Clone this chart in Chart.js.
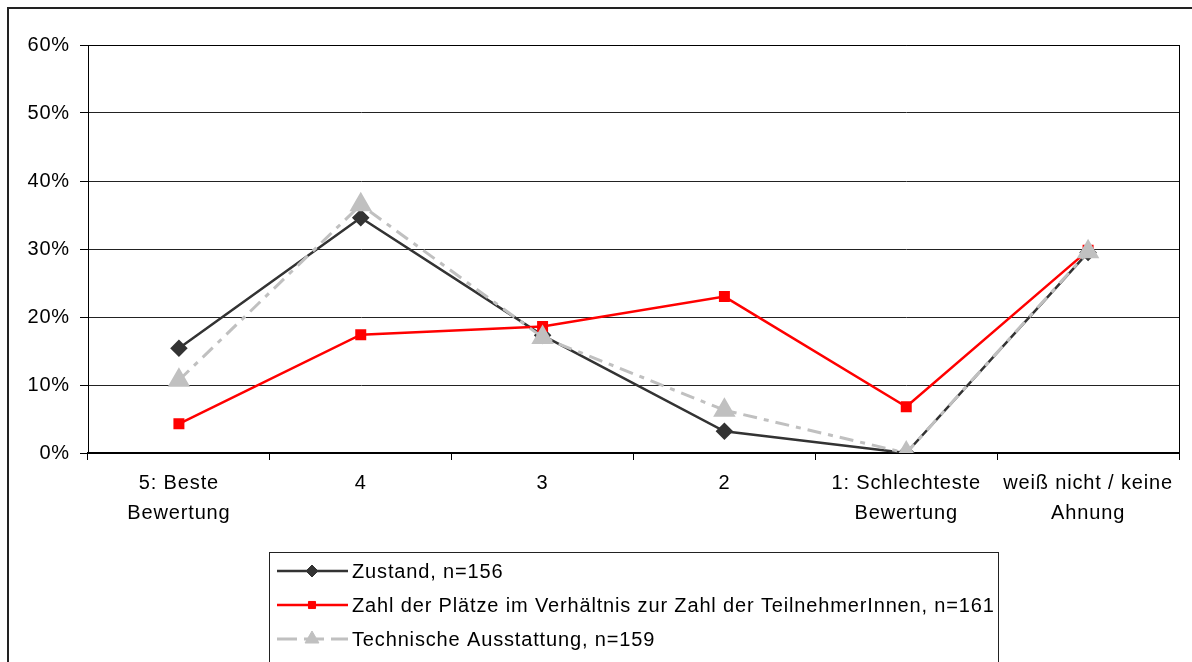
<!DOCTYPE html>
<html>
<head>
<meta charset="utf-8">
<script src="https://cdn.jsdelivr.net/npm/chart.js@4/dist/chart.umd.min.js"></script>
<style>
html,body{margin:0;padding:0;background:#fff;}
#wrap{position:relative;width:1192px;height:662px;}
canvas{display:block;}
</style>
</head>
<body>
<div id="wrap"><canvas id="c" width="1192" height="662"></canvas></div>
<script>
const categories = [["5: Beste","Bewertung"],"4","3","2",["1: Schlechteste","Bewertung"],["weiß nicht / keine","Ahnung"]];
const zustand = [15.4, 34.6, 17.3, 3.2, 0, 29.5];
const plaetze = [4.3, 17.4, 18.6, 23.0, 6.8, 29.8];
const technik = [10.7, 36.5, 17.0, 6.3, 0, 29.6];
const seriesNames = ["Zustand, n=156","Zahl der Plätze im Verhältnis zur Zahl der TeilnehmerInnen, n=161","Technische Ausstattung, n=159"];
const yTicks = [0,10,20,30,40,50,60];

const FONT = "'Liberation Sans', Arial, sans-serif";
const SPACING = '0.85px';

const frame = {
  id:'frame',
  beforeUpdate(chart){ chart.ctx.letterSpacing = SPACING; },
  beforeDraw(chart){
    const c = chart.ctx;
    c.letterSpacing = SPACING;
    c.save();
    c.fillStyle='#fff';
    c.fillRect(0,0,chart.width,chart.height);
    c.strokeStyle='#222';
    c.lineWidth=2;
    c.strokeRect(8,8,1200,700);
    c.restore();
  },
  afterDraw(chart){
    const c = chart.ctx;
    const a = chart.chartArea;
    c.save();
    c.strokeStyle='#000';
    c.lineWidth=1;
    c.beginPath();
    c.moveTo(a.left, a.top+0.5); c.lineTo(a.right+0.5, a.top+0.5);
    c.moveTo(a.right+0.5, a.top); c.lineTo(a.right+0.5, a.bottom);
    c.stroke();
    const lx=269, ly=552, lw=729, lh=130;
    c.fillStyle='#fff';
    c.fillRect(lx,ly,lw,lh);
    c.strokeStyle='#222';
    c.lineWidth=1;
    c.strokeRect(lx+0.5,ly+0.5,lw,lh);
    const rows=[571,605,639];
    c.font = "20px "+FONT;
    c.letterSpacing = SPACING;
    c.textBaseline='middle';
    chart.data.datasets.forEach((ds,i)=>{
      const y=rows[i];
      c.save();
      c.strokeStyle=ds.borderColor;
      c.lineWidth=ds.borderWidth;
      c.setLineDash(ds.legendDash||[]);
      c.beginPath(); c.moveTo(277,y); c.lineTo(348,y); c.stroke();
      c.restore();
      c.save();
      c.fillStyle=ds.pointBackgroundColor;
      c.strokeStyle=ds.pointBorderColor;
      c.lineWidth=1;
      Chart.helpers.drawPoint(c,{pointStyle:ds.pointStyle,radius:ds.legendRadius,borderWidth:1,rotation:0},312,y);
      c.restore();
      c.fillStyle='#000';
      c.textAlign='left';
      c.fillText(ds.label,352,y+1);
    });
    c.restore();
  }
};

new Chart(document.getElementById('c'),{
  type:'line',
  data:{
    labels:categories,
    datasets:[
      {label:seriesNames[0],data:zustand,borderColor:'#333333',backgroundColor:'#333333',pointBackgroundColor:'#333333',pointBorderColor:'#333333',borderWidth:2.5,pointStyle:'rectRot',pointRadius:7,legendRadius:6,tension:0,order:2},
      {label:seriesNames[1],data:plaetze,borderColor:'#ff0000',backgroundColor:'#ff0000',pointBackgroundColor:'#ff0000',pointBorderColor:'#ff0000',borderWidth:2.5,pointStyle:'rect',pointRadius:6,legendRadius:5,tension:0,order:1},
      {label:seriesNames[2],data:technik,borderColor:'#c0c0c0',backgroundColor:'#c0c0c0',pointBackgroundColor:'#c0c0c0',pointBorderColor:'#c0c0c0',borderWidth:3,borderDash:[14,7,5,7],legendDash:[20,7,5,7,8,7],pointStyle:'triangle',pointRadius:10,legendRadius:8,tension:0,order:0}
    ]
  },
  options:{
    responsive:false,
    animation:false,
    devicePixelRatio:1,
    layout:{padding:{left:0,top:45,right:11,bottom:0}},
    plugins:{legend:{display:false},tooltip:{enabled:false}},
    scales:{
      x:{
        offset:true,
        afterFit(s){s.height=209;},
        grid:{offset:true,drawOnChartArea:false,drawTicks:true,tickLength:7,color:'#000',lineWidth:1},
        border:{display:true,color:'#000',width:2},
        ticks:{color:'#000',font:{family:FONT,size:20,lineHeight:1.5},padding:8,maxRotation:0,autoSkip:false}
      },
      y:{
        min:0,max:60,
        afterFit(s){s.width=88;},
        afterBuildTicks(s){s.ticks=yTicks.map(v=>({value:v}));},
        grid:{color:'#222',lineWidth:1,drawTicks:true,tickLength:8,tickColor:'#000'},
        border:{display:true,color:'#000',width:1},
        ticks:{color:'#000',font:{family:FONT,size:20},padding:10,callback:v=>v+'%'}
      }
    }
  },
  plugins:[frame]
});
</script>
</body>
</html>
